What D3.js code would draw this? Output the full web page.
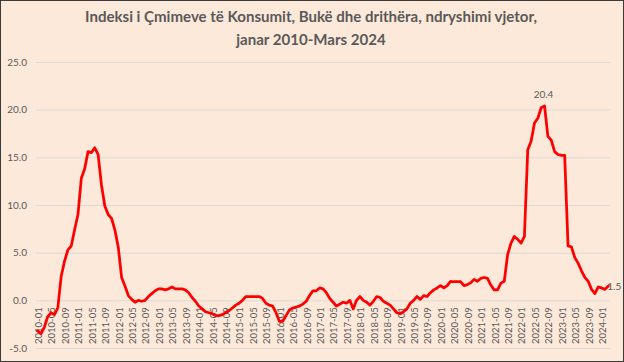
<!DOCTYPE html>
<html>
<head>
<meta charset="utf-8">
<script src="https://cdn.jsdelivr.net/npm/d3@7"></script>
<style>
  html, body { margin: 0; padding: 0; background: #fde9d9; }
  svg { display: block; }
  text { font-family: Lato, "Open Sans", sans-serif; fill: #595959; }
</style>
</head>
<body>
<svg id="chart" width="624" height="362"></svg>
<script>
// --- data ---
const titleLines = [
  "Indeksi i Çmimeve të Konsumit, Bukë dhe drithëra, ndryshimi vjetor,",
  "janar 2010-Mars 2024"
];
const years = [2010, 2011, 2012, 2013, 2014, 2015, 2016, 2017, 2018, 2019, 2020, 2021, 2022, 2023, 2024];
const months = ["01", "02", "03", "04", "05", "06", "07", "08", "09", "10", "11", "12"];
// jan 2010 .. mar 2024
const categories = years.flatMap(yr => months.map(m => yr + "-" + m)).slice(0, 171);

// annual change, %, one row per year
const values = [
  -3.2, -3.5, -2.8, -1.7, -1.3, -1.5, -0.8, 2.5, 4.1, 5.3, 5.7, 7.4,       // 2010
  9.0, 12.8, 13.8, 15.6, 15.5, 16.0, 15.3, 12.1, 9.9, 9.0, 8.6, 7.4,       // 2011
  5.6, 2.4, 1.5, 0.5, 0.1, -0.2, 0.0, -0.1, 0.0, 0.4, 0.7, 1.0,            // 2012
  1.2, 1.2, 1.1, 1.2, 1.4, 1.2, 1.2, 1.2, 1.1, 0.8, 0.3, -0.1,             // 2013
  -0.6, -0.9, -1.2, -1.3, -1.4, -1.6, -1.6, -1.5, -1.3, -1.1, -0.8, -0.5,  // 2014
  -0.3, 0.0, 0.4, 0.4, 0.4, 0.4, 0.4, 0.2, -0.3, -0.5, -0.6, -1.3,         // 2015
  -2.2, -2.2, -1.6, -1.0, -0.8, -0.7, -0.6, -0.4, -0.1, 0.5, 1.0, 1.0,     // 2016
  1.3, 1.2, 0.8, 0.2, -0.2, -0.6, -0.4, -0.2, -0.3, 0.0, -0.9, 0.0,        // 2017
  0.4, 0.0, -0.2, -0.5, -0.1, 0.4, 0.3, -0.1, -0.3, -0.5, -0.9, -1.3,      // 2018
  -1.4, -1.2, -0.9, -0.3, 0.0, 0.4, 0.1, 0.5, 0.4, 0.8, 1.1, 1.3,          // 2019
  1.55, 1.3, 1.55, 2.0, 1.95, 1.95, 1.95, 1.55, 1.65, 1.85, 2.2, 2.0,      // 2020
  2.3, 2.4, 2.3, 1.6, 1.1, 1.1, 1.8, 2.0, 4.8, 6.0, 6.7, 6.4,              // 2021
  6.0, 6.7, 15.8, 16.7, 18.6, 19.1, 20.2, 20.4, 17.2, 16.8, 15.6, 15.3,    // 2022
  15.2, 15.2, 5.7, 5.6, 4.5, 3.9, 3.1, 2.4, 2.0, 1.15, 0.7, 1.4,           // 2023
  1.3, 1.15, 1.5                                                           // 2024
];
const yTicks = [-5, 0, 5, 10, 15, 20, 25];
const labelledMonths = ["2022-08", "2024-03"];

// --- layout ---
const W = 624, H = 362;
const plot = {left: 36, right: 610, top: 62, bottom: 348};

const svg = d3.select("#chart");

svg.append("rect")
  .attr("x", 0.5).attr("y", 0.5)
  .attr("width", W - 1).attr("height", H - 1)
  .attr("fill", "#fde9d9")
  .attr("stroke", "#3a3a3a");

const x = d3.scaleBand().domain(categories).range([plot.left, plot.right]);
const y = d3.scaleLinear().domain([-5, 25]).range([plot.bottom, plot.top]);
const cx = c => x(c) + x.bandwidth() / 2;

// y axis + gridlines
const yAxis = svg.append("g")
  .attr("transform", `translate(${plot.left},0)`)
  .call(d3.axisLeft(y)
    .tickValues(yTicks)
    .tickSize(-(plot.right - plot.left))
    .tickPadding(9)
    .tickFormat(d => d.toFixed(1)));
yAxis.select(".domain").remove();
yAxis.selectAll(".tick line").attr("stroke", "#d9d9d9");
yAxis.selectAll(".tick text")
  .attr("font-size", 10)
  .attr("font-family", null)
  .attr("fill", "#595959");

// x axis, every fourth month
const xAxis = svg.append("g")
  .attr("transform", `translate(0,${y(0)})`)
  .call(d3.axisBottom(x)
    .tickValues(categories.filter((d, i) => i % 4 === 0))
    .tickSize(0));
xAxis.select(".domain").remove();
xAxis.selectAll(".tick text")
  .attr("font-size", 9.5)
  .attr("font-family", null)
  .attr("fill", "#595959")
  .attr("transform", "rotate(-90)")
  .attr("text-anchor", "end")
  .attr("x", -7)
  .attr("y", 1)
  .attr("dy", "0.35em");

// data labels
const labelData = labelledMonths.map(c => ({c, v: values[categories.indexOf(c)]}));
svg.append("g").selectAll("text").data(labelData).join("text")
  .attr("x", (d, i) => i === 0 ? cx(d.c) - 1 : cx(d.c) - 1)
  .attr("y", (d, i) => i === 0 ? y(d.v) - 8 : y(d.v) + 4)
  .attr("text-anchor", (d, i) => i === 0 ? "middle" : "start")
  .attr("font-size", 10)
  .text(d => d.v.toFixed(1));

// series
const line = d3.line()
  .x((d, i) => cx(categories[i]))
  .y(d => y(d));
svg.append("path")
  .datum(values)
  .attr("d", line)
  .attr("fill", "none")
  .attr("stroke", "#ff0000")
  .attr("stroke-width", 2.75)
  .attr("stroke-linejoin", "round")
  .attr("stroke-linecap", "round");

// title, fitted to the original width
const title = svg.append("g")
  .attr("font-weight", "bold");
const t1 = title.append("text")
  .attr("x", 311).attr("y", 22)
  .attr("text-anchor", "middle")
  .attr("font-size", 14)
  .text(titleLines[0]);
const fs = 14 * 452 / t1.node().getComputedTextLength();
t1.attr("font-size", fs);
title.append("text")
  .attr("x", 311).attr("y", 45)
  .attr("text-anchor", "middle")
  .attr("font-size", fs)
  .text(titleLines[1]);
</script>
</body>
</html>
